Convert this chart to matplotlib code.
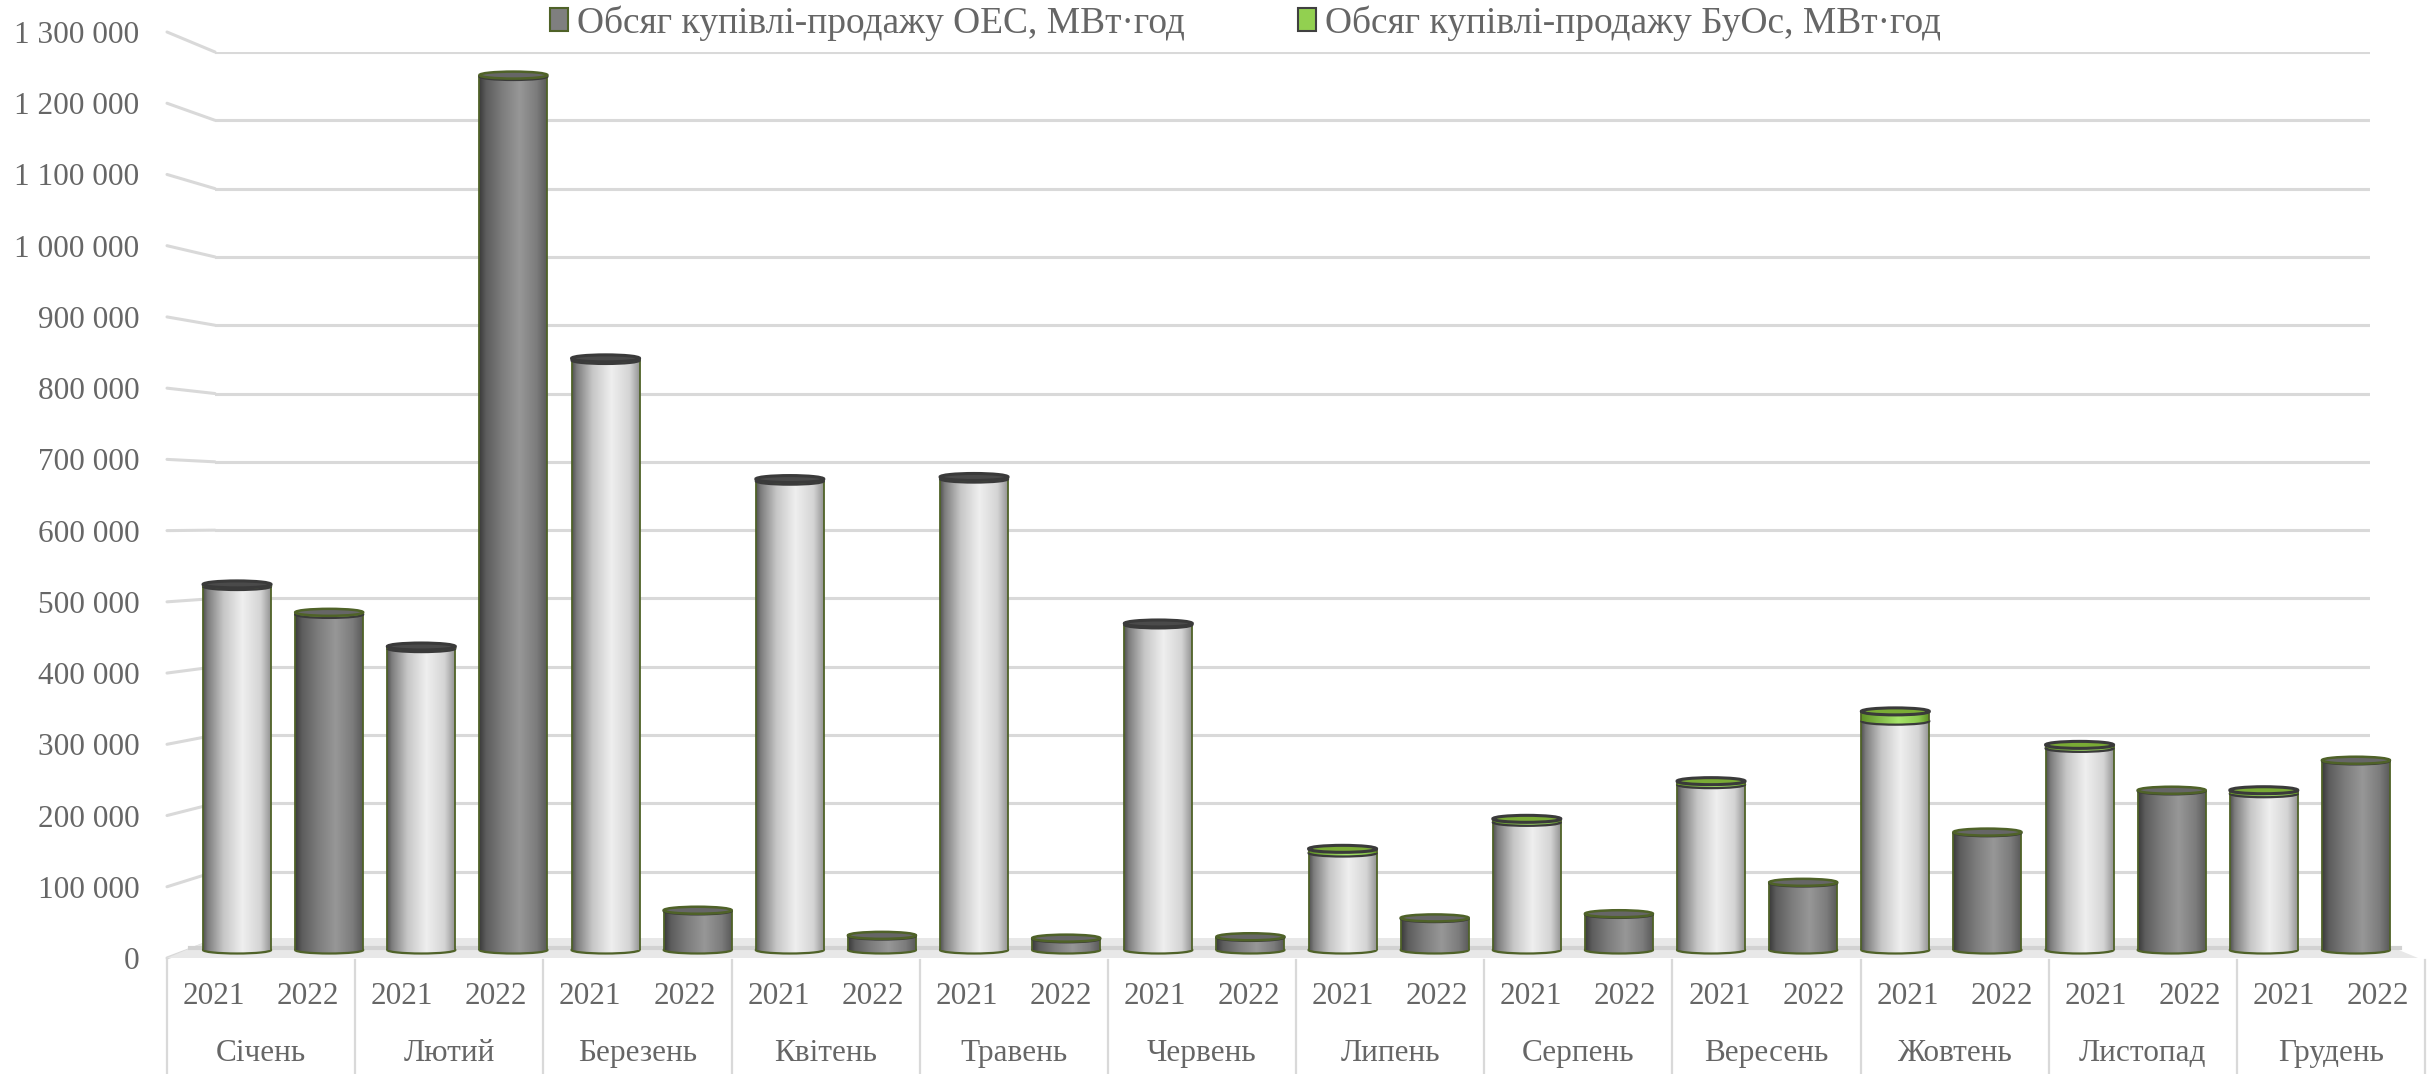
import matplotlib
matplotlib.use("Agg")
import matplotlib.pyplot as plt
import numpy as np
from matplotlib.colors import LinearSegmentedColormap
from matplotlib.patches import Ellipse, Patch, Polygon, ConnectionPatch

plt.rcParams["font.family"] = ["Liberation Serif", "DejaVu Serif"]

# ---- data (MWh) ----
months = ["Січень", "Лютий", "Березень", "Квітень", "Травень", "Червень",
          "Липень", "Серпень", "Вересень", "Жовтень", "Листопад", "Грудень"]
years = ["2021", "2022"]
oes_2021 = [521000, 432000, 845000, 672000, 675000, 466000,
            139000, 183000, 237000, 328000, 289000, 224000]
oes_2022 = [481000, 1252000, 56000, 20000, 16000, 18000,
            45000, 51000, 96000, 168000, 228000, 271000]
buos_2021 = [3000, 3000, 3000, 3000, 3000, 2000,
             6000, 5000, 5000, 14000, 5000, 5000]
buos_2022 = [3000, 2000, 1000, 1000, 1000, 1000,
             1000, 1000, 1000, 1000, 1000, 1000]
legend_labels = ["Обсяг купівлі-продажу ОЕС, МВт·год",
                 "Обсяг купівлі-продажу БуОс, МВт·год"]

YMAX = 1300000
ticks = list(range(0, YMAX + 1, 100000))

W, H = 2430, 1074
TXT = "#666666"
GRID = "#d9d9d9"
EDGE = "#4f6228"
FS = 22.5

light = LinearSegmentedColormap.from_list("light", [
    (0, "#505050"), (0.07, "#7d7d7d"), (0.3, "#c6c6c6"),
    (0.58, "#efefef"), (0.85, "#d4d4d4"), (1, "#949494")])
dark = LinearSegmentedColormap.from_list("dark", [
    (0, "#3a3a3a"), (0.1, "#5c5c5c"), (0.35, "#7e7e7e"),
    (0.6, "#979797"), (0.85, "#7c7c7c"), (1, "#5a5a5a")])
green = LinearSegmentedColormap.from_list("green", [
    (0, "#5e8f25"), (0.55, "#a6e46a"), (0.85, "#8cc84e"), (1, "#5e8f25")])
grad = np.linspace(0, 1, 256).reshape(1, -1)

fig = plt.figure(figsize=(W / 100, H / 100), dpi=100)


def px_axes(x0, x1, ytop, ybot, z):
    ax = fig.add_axes([x0 / W, 1 - ybot / H, (x1 - x0) / W, (ybot - ytop) / H])
    ax.set_zorder(z)
    ax.patch.set_alpha(0)
    return ax


# back wall with gridlines
ax_back = px_axes(215, 2370, 52, 940, 0)
ax_back.set_xlim(0, 1)
ax_back.set_ylim(0, YMAX)
ax_back.axis("off")
for v in ticks[1:]:
    ax_back.axhline(v, color=GRID, lw=2.2, zorder=0)

# floor
floor = Polygon(np.array([[167, 958], [2418, 958], [2370, 938], [215, 938]]) / [W, H] * [1, -1] + [0, 1],
                closed=True, transform=fig.transFigure, facecolor="#e8e8e8", edgecolor="none")
fig.patches.append(floor)
fig.add_artist(plt.Line2D([190 / W, 2400 / W], [1 - 948 / H, 1 - 948 / H],
                          transform=fig.transFigure, color="#d2d2d2", lw=3))

# front axis: value labels + category table
ax_front = px_axes(167, 2425, 32, 958, 1)
ax_front.set_xlim(0, 24)
ax_front.set_ylim(0, YMAX)
for s in ax_front.spines.values():
    s.set_visible(False)
ax_front.set_xticks([])
ax_front.set_yticks(ticks)
ax_front.set_yticklabels([f"{v:,}".replace(",", " ") for v in ticks])
ax_front.tick_params(axis="y", length=0, pad=20, labelsize=FS, labelcolor=TXT)

xt = ax_front.get_xaxis_transform()
for k in range(13):
    ax_front.plot([2 * k, 2 * k], [-0.002, -0.125], transform=xt, color=GRID,
                  lw=1.6, clip_on=False)
for m, name in enumerate(months):
    for j, yr in enumerate(years):
        ax_front.text(2 * m + j + 0.5, -0.042, yr, transform=xt, ha="center",
                      va="center", fontsize=FS, color=TXT)
    ax_front.text(2 * m + 1, -0.1026, name, transform=xt, ha="center",
                  va="center", fontsize=FS, color=TXT)

# connectors between front labels and back gridlines
for v in ticks:
    con = ConnectionPatch(xyA=(0, v), coordsA=ax_front.transData,
                          xyB=(0, v), coordsB=ax_back.transData,
                          color=GRID, lw=2.2)
    fig.add_artist(con)

# bars (mid depth)
base_px, top_px, bot_px = 950, 43, 964
ylo = -(bot_px - base_px) / (base_px - top_px) * YMAX
ax_bar = px_axes(191, 2402, top_px, bot_px, 2)
ax_bar.set_xlim(-0.5, 23.5)
ax_bar.set_ylim(ylo, YMAX)
ax_bar.axis("off")
BW = 0.738
EH = 7 / (base_px - top_px) * YMAX


def cylinder(x, y0, y1, cmap, z, bottom_edge):
    bars = ax_bar.bar([x], [y1 - y0], bottom=[y0], width=BW, color="none",
                      lw=0, zorder=z + 0.1)
    im = ax_bar.imshow(grad, cmap=cmap, aspect="auto", interpolation="bicubic",
                       extent=[x - BW / 2, x + BW / 2, y0, y1], zorder=z)
    im.set_clip_path(bars[0])
    ell = Ellipse((x, y0), BW, EH, facecolor="none", edgecolor="none", zorder=z - 0.2)
    ax_bar.add_patch(ell)
    im2 = ax_bar.imshow(grad, cmap=cmap, aspect="auto", interpolation="bicubic",
                        extent=[x - BW / 2, x + BW / 2, y0 - EH / 2, y0 + EH / 2],
                        zorder=z - 0.3)
    im2.set_clip_path(ell)
    ax_bar.add_patch(Ellipse((x, y0), BW, EH, facecolor="none",
                             edgecolor=bottom_edge, lw=1.6, zorder=z - 0.25))
    ax_bar.vlines([x - BW / 2, x + BW / 2], y0, y1, color=EDGE, lw=1.3, zorder=z + 0.2)


for m in range(12):
    for j, (oes, buos) in enumerate([(oes_2021, buos_2021), (oes_2022, buos_2022)]):
        x = 2 * m + j
        cm = light if j == 0 else dark
        cylinder(x, 0, oes[m], cm, 3, EDGE)
        total = oes[m] + buos[m]
        cylinder(x, oes[m], total, green, 4, "#3a3a3a")
        if j == 0:
            face = "#7aab35" if buos[m] >= 4000 else "#4a4a4a"
            ax_bar.add_patch(Ellipse((x, total), BW, EH, facecolor=face,
                                     edgecolor="#3a3a3a", lw=2.2, zorder=5))
        else:
            ax_bar.add_patch(Ellipse((x, total), BW, EH, facecolor="#666666",
                                     edgecolor=EDGE, lw=1.8, zorder=5))

ax_bar.set_xlim(-0.5, 23.5)
ax_bar.set_ylim(ylo, YMAX)

LFS = 27
handles = [Patch(facecolor="#7f7f7f", edgecolor=EDGE, lw=1.5),
           Patch(facecolor="#92d050", edgecolor="#404040", lw=1.5)]
fig.legend(handles, legend_labels, ncol=2, loc="center left",
           bbox_to_anchor=(550 / W, 1 - 23 / H), frameon=False, fontsize=LFS,
           labelcolor=TXT, handlelength=0.48, handleheight=0.54,
           handletextpad=0.25, columnspacing=3.0, borderpad=0.0, borderaxespad=0.0)

fig.savefig("out.png", dpi=100)
